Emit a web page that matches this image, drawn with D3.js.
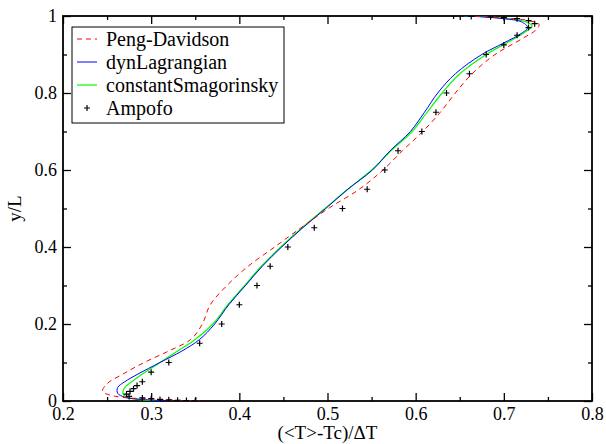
<!DOCTYPE html>
<html>
<head>
<meta charset="utf-8">
<script src="https://cdn.jsdelivr.net/npm/d3@7"></script>
<style>
  body { margin: 0; background: #fff; }
  text { font-family: "Liberation Serif", "DejaVu Serif", serif; }
</style>
</head>
<body>
<div class="chartDiv"></div>
<script>
// Ampofo experiment points
var ampofoT = [0.35, 0.34, 0.33, 0.32, 0.31, 0.30, 0.29, 0.275, 0.272, 0.276, 0.28, 0.284, 0.29, 0.30, 0.32, 0.355, 0.38, 0.40, 0.42, 0.435, 0.455, 0.485, 0.517, 0.545, 0.565, 0.58, 0.607, 0.623, 0.635, 0.661, 0.68, 0.70, 0.715, 0.728, 0.735, 0.728, 0.715, 0.70, 0.685, 0.663, 0.643];
var ampofoY = [0.0, 0.001, 0.002, 0.003, 0.004, 0.006, 0.008, 0.012, 0.018, 0.025, 0.032, 0.04, 0.05, 0.075, 0.1, 0.15, 0.2, 0.25, 0.3, 0.35, 0.4, 0.45, 0.5, 0.55, 0.6, 0.65, 0.7, 0.75, 0.8, 0.85, 0.9, 0.925, 0.95, 0.97, 0.98, 0.988, 0.993, 0.996, 0.998, 0.999, 1.0];

// Peng-Davidson
var pengY = [0, 0.005, 0.012, 0.025, 0.045, 0.07, 0.1, 0.13, 0.16, 0.2, 0.25, 0.3, 0.35, 0.4, 0.45, 0.5, 0.55, 0.6, 0.65, 0.7, 0.75, 0.8, 0.85, 0.9, 0.94, 0.965, 0.978, 0.988, 0.995, 1.0];
var pengT = [0.355, 0.30, 0.26, 0.245, 0.25, 0.268, 0.292, 0.32, 0.345, 0.358, 0.367, 0.386, 0.41, 0.44, 0.47, 0.501, 0.536, 0.563, 0.585, 0.608, 0.628, 0.645, 0.664, 0.69, 0.72, 0.737, 0.74, 0.728, 0.7, 0.66];

// dynLagrangian
var dynY = [0, 0.004, 0.01, 0.02, 0.035, 0.05, 0.07, 0.1, 0.13, 0.16, 0.2, 0.25, 0.3, 0.35, 0.4, 0.45, 0.5, 0.55, 0.6, 0.65, 0.7, 0.75, 0.8, 0.85, 0.9, 0.93, 0.955, 0.97, 0.985, 0.993, 0.998, 1.0];
var dynT = [0.32, 0.29, 0.27, 0.262, 0.262, 0.27, 0.285, 0.31, 0.335, 0.355, 0.372, 0.388, 0.407, 0.426, 0.448, 0.472, 0.498, 0.523, 0.551, 0.571, 0.594, 0.61, 0.625, 0.645, 0.675, 0.70, 0.72, 0.727, 0.72, 0.70, 0.675, 0.655];

// constantSmagorinsky
var smagY = [0, 0.004, 0.01, 0.02, 0.035, 0.05, 0.07, 0.1, 0.13, 0.16, 0.2, 0.25, 0.3, 0.35, 0.4, 0.45, 0.5, 0.55, 0.6, 0.65, 0.7, 0.75, 0.8, 0.85, 0.9, 0.93, 0.955, 0.975, 0.988, 0.995, 0.999, 1.0];
var smagT = [0.31, 0.285, 0.272, 0.268, 0.27, 0.278, 0.29, 0.31, 0.33, 0.35, 0.37, 0.387, 0.406, 0.425, 0.447, 0.471, 0.497, 0.523, 0.55, 0.572, 0.596, 0.613, 0.63, 0.65, 0.68, 0.703, 0.722, 0.732, 0.72, 0.695, 0.67, 0.655];

var xMajor = [0.2, 0.3, 0.4, 0.5, 0.6, 0.7, 0.8];
var xMinor = [0.25, 0.35, 0.45, 0.55, 0.65, 0.75];
var yMajor = [0, 0.2, 0.4, 0.6, 0.8, 1];
var yMinor = [0.1, 0.3, 0.5, 0.7, 0.9];

var margin = {top: 16, right: 14, bottom: 43, left: 63},
    width = 606 - margin.left - margin.right,
    height = 444 - margin.top - margin.bottom;

var svg = d3.select('div.chartDiv').append('svg')
  .attr('width', 606).attr('height', 444);
var g = svg.append('g').attr('transform', 'translate(' + margin.left + ',' + margin.top + ')');

var xScale = d3.scaleLinear().domain([0.2, 0.8]).range([0, width]);
var yScale = d3.scaleLinear().domain([0, 1]).range([height, 0]);

function styleAxis(sel) {
  sel.select('.domain').remove();
  sel.selectAll('line').attr('stroke', '#000').attr('stroke-width', 1.3);
  sel.selectAll('text').attr('font-family', '"Liberation Serif", serif').attr('font-size', 18).attr('fill', '#000');
}

// bottom
g.append('g').attr('transform', 'translate(0,' + height + ')')
  .call(d3.axisBottom(xScale).tickValues(xMajor).tickSize(-8).tickPadding(6).tickFormat(function(d){ return d; }))
  .call(styleAxis);
g.append('g').attr('transform', 'translate(0,' + height + ')')
  .call(d3.axisBottom(xScale).tickValues(xMinor).tickSize(-4).tickFormat(''))
  .call(styleAxis);
// top
g.append('g').call(d3.axisTop(xScale).tickValues(xMajor).tickSize(-8).tickFormat('')).call(styleAxis);
g.append('g').call(d3.axisTop(xScale).tickValues(xMinor).tickSize(-4).tickFormat('')).call(styleAxis);
// left
g.append('g')
  .call(d3.axisLeft(yScale).tickValues(yMajor).tickSize(-8).tickPadding(6).tickFormat(function(d){ return d; }))
  .call(styleAxis);
g.append('g').call(d3.axisLeft(yScale).tickValues(yMinor).tickSize(-4).tickFormat('')).call(styleAxis);
// right
g.append('g').attr('transform', 'translate(' + width + ',0)')
  .call(d3.axisRight(yScale).tickValues(yMajor).tickSize(-8).tickFormat('')).call(styleAxis);
g.append('g').attr('transform', 'translate(' + width + ',0)')
  .call(d3.axisRight(yScale).tickValues(yMinor).tickSize(-4).tickFormat('')).call(styleAxis);

// frame
g.append('rect').attr('width', width).attr('height', height)
  .attr('fill', 'none').attr('stroke', '#000').attr('stroke-width', 1.8);

var line = d3.line()
  .x(function(d){ return xScale(d[0]); })
  .y(function(d){ return yScale(d[1]); })
  .curve(d3.curveCatmullRom.alpha(0.5));

g.append('clipPath').attr('id', 'plotClip')
  .append('rect').attr('width', width).attr('height', height);
var plot = g.append('g').attr('clip-path', 'url(#plotClip)');

plot.append('path').datum(d3.zip(smagT, smagY)).attr('d', line)
  .attr('fill', 'none').attr('stroke', '#00ff00').attr('stroke-width', 1.2);
plot.append('path').datum(d3.zip(dynT, dynY)).attr('d', line)
  .attr('fill', 'none').attr('stroke', '#0000ff').attr('stroke-width', 1);
plot.append('path').datum(d3.zip(pengT, pengY)).attr('d', line)
  .attr('fill', 'none').attr('stroke', '#ff0000').attr('stroke-width', 1)
  .attr('stroke-dasharray', '5,4');

var cross = function(sel) {
  sel.append('path').attr('d', 'M-3,0H3M0,-3V3').attr('stroke', '#000').attr('stroke-width', 1.2);
};
plot.selectAll('g.pt').data(d3.zip(ampofoT, ampofoY)).enter().append('g')
  .attr('class', 'pt')
  .attr('transform', function(d){ return 'translate(' + xScale(d[0]) + ',' + yScale(d[1]) + ')'; })
  .call(cross);

// axis titles
svg.append('text').attr('x', margin.left + width / 2).attr('y', 439)
  .attr('text-anchor', 'middle').attr('font-size', 19).text('(<T>-Tc)/ΔT');
svg.append('text').attr('transform', 'translate(21,' + (margin.top + height / 2) + ') rotate(-90)')
  .attr('text-anchor', 'middle').attr('font-size', 19).text('y/L');

// legend
var legendNames = ['Peng-Davidson', 'dynLagrangian', 'constantSmagorinsky', 'Ampofo'];
var legendColors = ['#ff0000', '#0000ff', '#00ff00', '#000'];
var lg = svg.append('g').attr('transform', 'translate(72,27)');
lg.append('rect').attr('width', 212).attr('height', 96)
  .attr('fill', '#fff').attr('stroke', '#000').attr('stroke-width', 1);
legendNames.forEach(function(name, i) {
  var yy = 12 + i * 23;
  if (i < 3) {
    lg.append('line').attr('x1', 5).attr('x2', 25).attr('y1', yy).attr('y2', yy)
      .attr('stroke', legendColors[i]).attr('stroke-width', i == 2 ? 1.2 : 1)
      .attr('stroke-dasharray', i == 0 ? '5,4' : null);
  } else {
    lg.append('g').attr('transform', 'translate(15,' + yy + ')').call(cross);
  }
  lg.append('text').attr('x', 34).attr('y', yy + 7).attr('font-size', 20).text(name);
});
</script>
</body>
</html>
